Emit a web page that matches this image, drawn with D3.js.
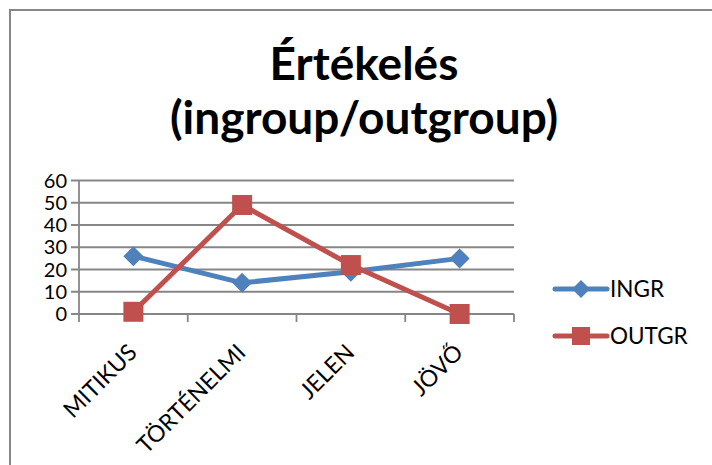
<!DOCTYPE html>
<html><head><meta charset="utf-8">
<script src="https://cdn.jsdelivr.net/npm/d3@7"></script>
<style>body{margin:0;background:#fff}svg{display:block}</style>
</head><body>
<script>
const categories = ["MITIKUS", "TÖRTÉNELMI", "JELEN", "JÖVŐ"];
const ingr = [26, 14, 19, 25];
const outgr = [1, 49, 22, 0];
const yTicks = [0, 10, 20, 30, 40, 50, 60];
const seriesNames = ["INGR", "OUTGR"];
const titleLines = ["Értékelés", "(ingroup/outgroup)"];

const W = 712, H = 465;
const font = "Lato, 'Open Sans', sans-serif";
const svg = d3.select("body").append("svg").attr("width", W).attr("height", H);
svg.append("rect").attr("width", W).attr("height", H).attr("fill", "#fff");
// chart border (cropped at right/bottom)
svg.append("path").attr("d", "M10,466 L10,10 L713,10").attr("fill", "none")
  .attr("stroke", "#878787").attr("stroke-width", 2);

svg.selectAll("text.title").data(titleLines).join("text")
  .attr("x", 364).attr("y", (d, i) => 80 + i * 54)
  .attr("text-anchor", "middle").attr("font-family", font)
  .attr("font-weight", "bold").attr("font-size", 46).attr("fill", "#000").text(d => d);

const x = d3.scaleBand().domain(categories).range([79, 514]);
const y = d3.scaleLinear().domain([0, 60]).range([314, 180.5]);
const grid = "#868686";

// gridlines
svg.append("g").selectAll("line").data(yTicks).join("line")
  .attr("x1", 71).attr("x2", 514).attr("y1", d => y(d)).attr("y2", d => y(d))
  .attr("stroke", grid).attr("stroke-width", 1.8);
// y axis line
svg.append("line").attr("x1", 79).attr("x2", 79).attr("y1", y(60)).attr("y2", y(0) + 8)
  .attr("stroke", grid).attr("stroke-width", 1.8);
// x ticks at band boundaries
const bounds = categories.map(c => x(c)).concat([x.range()[1]]);
svg.append("g").selectAll("line").data(bounds.slice(1)).join("line")
  .attr("x1", d => d).attr("x2", d => d).attr("y1", y(0)).attr("y2", y(0) + 8)
  .attr("stroke", grid).attr("stroke-width", 1.8);

// y labels
svg.append("g").selectAll("text").data(yTicks).join("text")
  .attr("x", 67).attr("y", d => y(d)).attr("dy", "0.35em").attr("text-anchor", "end")
  .attr("font-family", font).attr("font-size", 20).attr("fill", "#000").text(d => d);

// x labels rotated
const cx = c => x(c) + x.bandwidth() / 2;
svg.append("g").selectAll("text").data(categories).join("text")
  .attr("transform", c => `translate(${cx(c) + 5},${y(0) + 40}) rotate(-45)`)
  .attr("text-anchor", "end").attr("font-family", font).attr("font-size", 23)
  .attr("fill", "#000").text(d => d);

const blue = "#4F81BD", red = "#C0504D";
const line = d3.line().x((d, i) => cx(categories[i])).y(d => y(d));
svg.append("path").datum(ingr).attr("d", line).attr("fill", "none")
  .attr("stroke", blue).attr("stroke-width", 5).attr("stroke-linejoin", "round");
svg.append("path").datum(outgr).attr("d", line).attr("fill", "none")
  .attr("stroke", red).attr("stroke-width", 5).attr("stroke-linejoin", "round");

const diamond = (px, py, r) => `M${px},${py - r}L${px + r},${py}L${px},${py + r}L${px - r},${py}Z`;
svg.append("g").selectAll("path").data(ingr).join("path")
  .attr("d", (d, i) => diamond(cx(categories[i]), y(d), 10)).attr("fill", blue);
svg.append("g").selectAll("rect").data(outgr).join("rect")
  .attr("x", (d, i) => cx(categories[i]) - 10).attr("y", d => y(d) - 10)
  .attr("width", 20).attr("height", 20).attr("fill", red);

// legend
const lg = svg.append("g");
const legY = [289, 336];
seriesNames.forEach((n, i) => {
  const col = i === 0 ? blue : red;
  lg.append("line").attr("x1", 555).attr("x2", 607).attr("y1", legY[i]).attr("y2", legY[i])
    .attr("stroke", col).attr("stroke-width", 5).attr("stroke-linecap", "round");
  if (i === 0) lg.append("path").attr("d", diamond(581, legY[i], 9)).attr("fill", col);
  else lg.append("rect").attr("x", 572).attr("y", legY[i] - 9).attr("width", 18).attr("height", 18).attr("fill", col);
  lg.append("text").attr("x", 610).attr("y", legY[i]).attr("dy", "0.35em")
    .attr("font-family", font).attr("font-size", 22.5).attr("fill", "#000").text(n);
});
</script>
</body></html>
